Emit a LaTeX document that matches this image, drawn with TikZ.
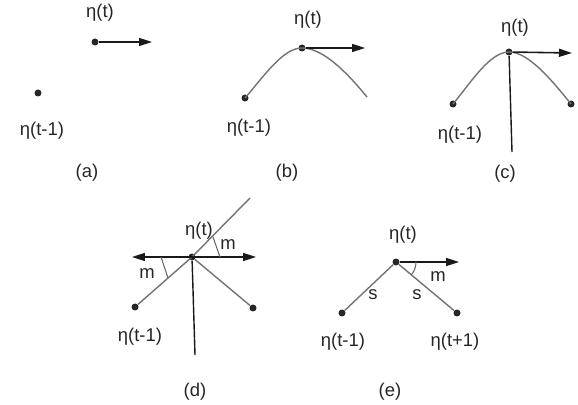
\documentclass[tikz,border=0pt]{standalone}
\usepackage{fontspec}
\setmainfont{Liberation Sans}
\usetikzlibrary{arrows.meta}

\begin{document}
\begin{tikzpicture}[
  x=0.02cm,y=-0.02cm,
  posdot/.style={circle,fill=black!85,inner sep=0pt,minimum size=1.4mm},
  lbl/.style={font=\fontsize{10.5}{12}\selectfont,text=black!85,inner sep=1pt},
  velocity/.style={
    -{Triangle[length=2.6mm,width=1.6mm]},draw=black!90,line width=.9pt
  },
  bothways/.style={
    {Triangle[length=2.6mm,width=1.6mm]}-{Triangle[length=2.6mm,width=1.6mm]},
    draw=black!90,line width=.9pt
  },
  trail/.style={draw=black!55,line width=.8pt},
  perp/.style={draw=black!90,line width=.8pt},
  anglemark/.style={draw=black!60,line width=.6pt}
]
  \useasboundingbox (0,0) rectangle (578,405);

  % (a) two positions only
  \node[posdot] (a1) at (95,42) {};
  \node[posdot] (a0) at (38,93) {};
  \coordinate (a1v) at (152,42);
  \draw[velocity] (a1) -- (a1v);
  \node[lbl] (a1lbl) at (100,13) {η(t)};
  \node[lbl] (a0lbl) at (42,131) {η(t-1)};
  \node[lbl] (acap) at (87,173) {(a)};

  % (b) smooth path through eta(t)
  \node[posdot] (b1) at (302,48) {};
  \node[posdot] (b0) at (245,98) {};
  \coordinate (b2) at (367,97);
  \coordinate (b1v) at (365,48);
  \draw[trail] (b0.center) .. controls (265,75) and (283,48) .. (b1.center)
    .. controls (322,48) and (345,70) .. (b2);
  \draw[velocity] (b1) -- (b1v);
  \node[lbl] (b1lbl) at (308,20) {η(t)};
  \node[lbl] (b0lbl) at (249,128) {η(t-1)};
  \node[lbl] (bcap) at (287,173) {(b)};

  % (c) path with normal
  \node[posdot] (c1) at (509,52) {};
  \node[posdot] (c0) at (453,104) {};
  \node[posdot] (c2) at (571,104) {};
  \coordinate (c1v) at (572,53);
  \coordinate (c1n) at (512,152);
  \draw[trail] (c0.center) .. controls (472,81) and (490,52) .. (c1.center)
    .. controls (528,52) and (550,78) .. (c2.center);
  \draw[perp] (c1) -- (c1n);
  \draw[velocity] (c1) -- (c1v);
  \node[lbl] (c1lbl) at (515,28) {η(t)};
  \node[lbl] (c0lbl) at (460,135) {η(t-1)};
  \node[lbl] (ccap) at (505,174) {(c)};

  % (d) angles m on both sides
  \node[posdot] (d1) at (192,257) {};
  \node[posdot] (d0) at (135,307) {};
  \node[posdot] (d2) at (253,308) {};
  \coordinate (dtop) at (250,198);
  \coordinate (dwest) at (132,257);
  \coordinate (deast) at (256,257);
  \coordinate (d1n) at (195,355);
  \coordinate (dmr1) at (213,237);
  \coordinate (dmr2) at (220,257);
  \coordinate (dml1) at (161,257);
  \coordinate (dml2) at (168,278);
  \draw[trail] (d0) -- (d1.center) -- (dtop);
  \draw[trail] (d1) -- (d2);
  \draw[perp] (d1) -- (d1n);
  \draw[bothways] (dwest) -- (deast);
  \draw[anglemark] (dmr1) -- (dmr2);
  \draw[anglemark] (dml1) -- (dml2);
  \node[lbl] (d1lbl) at (199,231) {η(t)};
  \node[lbl] (dmr) at (228,245) {m};
  \node[lbl] (dml) at (147,274) {m};
  \node[lbl] (d0lbl) at (140,337) {η(t-1)};
  \node[lbl] (dcap) at (195,392) {(d)};

  % (e) equal steps s
  \node[posdot] (e1) at (396,262) {};
  \node[posdot] (e0) at (342,313) {};
  \node[posdot] (e2) at (457,313) {};
  \coordinate (e1v) at (459,262);
  \draw[trail] (e0) -- (e1) -- (e2);
  \draw[velocity] (e1) -- (e1v);
  \draw[anglemark] (e1.center) ++(20,0) arc[start angle=0,end angle=40,radius=20];
  \node[lbl] (e1lbl) at (403,235) {η(t)};
  \node[lbl] (em) at (438,277) {m};
  \node[lbl] (es0) at (373,295) {s};
  \node[lbl] (es2) at (417,295) {s};
  \node[lbl] (e0lbl) at (343,342) {η(t-1)};
  \node[lbl] (e2lbl) at (455,342) {η(t+1)};
  \node[lbl] (ecap) at (390,392) {(e)};
\end{tikzpicture}
\end{document}
